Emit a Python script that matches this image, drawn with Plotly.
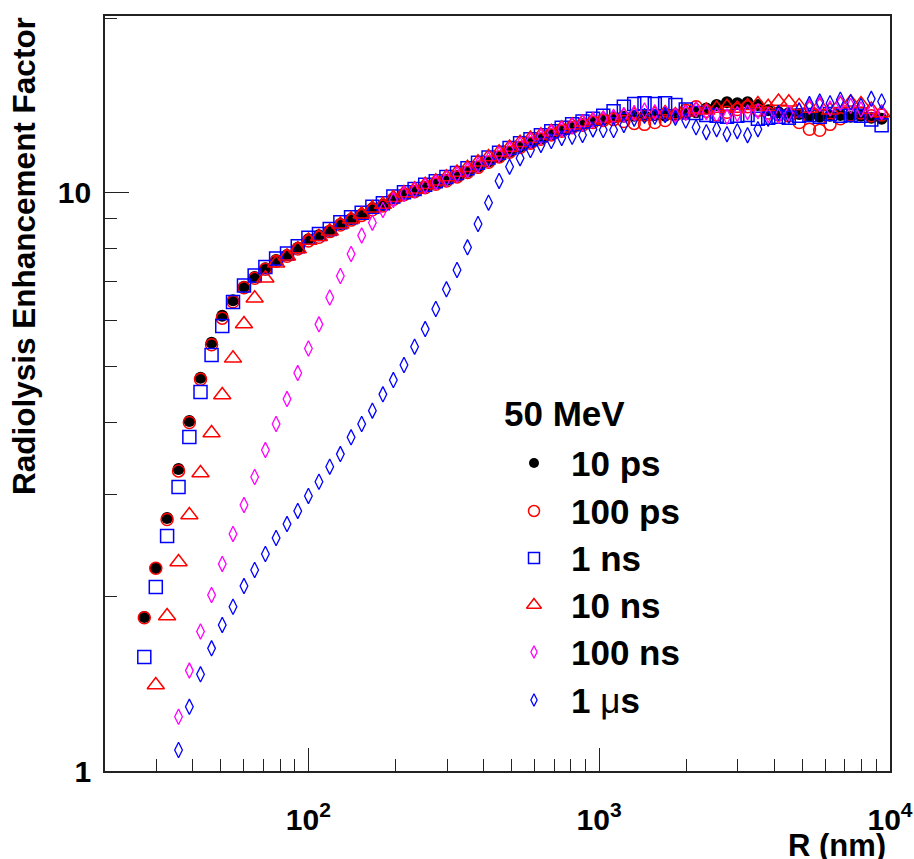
import plotly.graph_objects as go

# Radius R (nm) sample positions (log bins)
R = [27.3, 29.9, 32.7, 35.8, 39.0, 42.6, 46.5, 50.6, 55.1, 60.1,
     65.4, 71.2, 77.5, 84.5, 92.0, 100.1, 108.8, 118.5, 128.9, 140.3,
     152.6, 166.1, 180.5, 196.1, 213.3, 232.0, 252.3, 274.4, 298.5, 324.6,
     352.7, 383.3, 416.6, 452.9, 492.0, 534.8, 580.5, 630.6, 684.6, 743.5,
     807.5, 876.8, 952.2, 1033, 1121, 1216, 1320, 1432, 1554, 1686,
     1829, 1985, 2154, 2336, 2535, 2751, 2985, 3238, 3514, 3813,
     4137, 4489, 4870, 5284, 5733, 6221, 6750, 7325, 7947, 8624, 9357]

ref_10ps = [1.845, 2.243, 2.736, 3.325, 4.024, 4.780, 5.495, 6.117, 6.505, 6.866,
            7.137, 7.388, 7.636, 7.789, 8.019, 8.291, 8.430, 8.581, 8.813, 8.989,
            9.159, 9.381, 9.505, 9.761, 9.93, 10.05, 10.21, 10.35, 10.50, 10.67,
            10.85, 11.08, 11.30, 11.52, 11.75, 11.98, 12.18, 12.38, 12.58, 12.78,
            12.95, 13.10, 13.25, 13.35, 13.45, 13.50, 13.55, 13.55, 13.60, 13.55,
            13.60, 13.65, 13.75, 13.95, 14.15, 14.30, 14.25, 14.30, 14.15, 13.85,
            13.75, 13.70, 13.65, 13.55, 13.50, 13.55, 13.60, 13.50, 13.55, 13.45, 13.40]

ref_100ps = [1.84, 2.24, 2.72, 3.30, 4.00, 4.75, 5.45, 6.06, 6.47, 6.84,
             7.10, 7.36, 7.60, 7.75, 7.98, 8.24, 8.36, 8.55, 8.78, 8.95,
             9.12, 9.33, 9.47, 9.72, 9.90, 10.02, 10.18, 10.32, 10.46, 10.63,
             10.82, 11.04, 11.27, 11.50, 11.72, 11.95, 12.15, 12.35, 12.56, 12.75,
             12.92, 13.05, 13.20, 13.30, 13.35, 13.25, 13.15, 13.10, 13.20, 13.30,
             13.60, 13.85, 14.05, 13.80, 13.60, 13.75, 13.90, 14.05, 13.85, 13.70,
             13.60, 13.55, 13.20, 12.85, 12.80, 13.10, 13.40, 13.60, 13.70, 13.55, 13.60]

ref_1ns = [1.574, 2.079, 2.547, 3.095, 3.777, 4.516, 5.233, 5.873, 6.461, 6.90,
           7.18, 7.43, 7.68, 7.84, 8.07, 8.34, 8.47, 8.64, 8.87, 9.05,
           9.22, 9.44, 9.57, 9.83, 10.00, 10.13, 10.30, 10.45, 10.62, 10.80,
           11.00, 11.25, 11.48, 11.70, 11.92, 12.15, 12.35, 12.55, 12.75, 12.92,
           13.10, 13.25, 13.40, 13.55, 13.80, 14.05, 14.20, 14.25, 14.20, 14.25,
           14.15, 13.90, 13.70, 13.60, 13.55, 13.50, 13.55, 13.60, 13.40, 13.45,
           13.50, 13.45, 13.55, 13.60, 13.50, 13.65, 13.55, 13.60, 13.55, 13.35, 13.05]

ref_10ns = [None, 1.408, 1.853, 2.296, 2.769, 3.272, 3.837, 4.462, 5.164, 5.920,
            6.557, 7.100, 7.539, 7.75, 7.98, 8.25, 8.38, 8.56, 8.80, 8.98,
            9.16, 9.38, 9.52, 9.78, 9.97, 10.12, 10.30, 10.45, 10.62, 10.82,
            11.02, 11.27, 11.50, 11.72, 11.95, 12.18, 12.38, 12.55, 12.72, 12.90,
            13.05, 13.20, 13.32, 13.40, 13.45, 13.55, 13.60, 13.50, 13.65, 13.70,
            13.60, 13.75, 13.90, 13.85, 13.95, 14.05, 13.95, 14.10, 14.20, 14.05,
            14.35, 14.30, 14.10, 13.95, 14.10, 13.85, 14.20, 14.30, 14.20, 13.90, 13.70]

ref_100ns = [None, None, None, 1.241, 1.491, 1.742, 2.014, 2.279, 2.568, 2.881,
             3.221, 3.585, 3.977, 4.392, 4.870, 5.370, 5.912, 6.578, 7.165, 7.821,
             8.418, 8.859, 9.318, 9.694, 9.93, 10.08, 10.25, 10.40, 10.55, 10.72,
             10.92, 11.15, 11.38, 11.62, 11.85, 12.08, 12.28, 12.48, 12.68, 12.86,
             13.02, 13.18, 13.32, 13.40, 13.50, 13.60, 13.70, 13.85, 13.75, 13.65,
             13.55, 13.70, 13.90, 13.75, 13.60, 13.50, 13.65, 13.75, 13.80, 13.60,
             13.55, 13.70, 13.85, 14.05, 14.20, 13.95, 14.25, 14.10, 13.90, 13.85, 13.75]

ref_1us = [None, None, None, 1.087, 1.291, 1.469, 1.629, 1.788, 1.922, 2.087,
           2.225, 2.371, 2.527, 2.671, 2.814, 2.987, 3.161, 3.356, 3.528, 3.772,
           3.977, 4.194, 4.475, 4.737, 5.029, 5.409, 5.802, 6.284, 6.796, 7.338,
           8.032, 8.813, 9.592, 10.46, 11.07, 11.45, 11.83, 12.07, 12.26, 12.41,
           12.47, 12.56, 12.84, 12.81, 12.81, 13.07, 13.40, 13.55, 13.50, 13.60,
           13.45, 13.30, 12.95, 12.70, 12.85, 12.60, 12.75, 12.55, 12.85, 13.40,
           13.70, 13.55, 13.85, 14.20, 14.35, 14.25, 14.45, 14.30, 14.10, 14.50, 14.35]

legend_header = "50 MeV"
series_names = ["10 ps", "100 ps", "1 ns", "10 ns", "100 ns",
                "1 <span style='font-weight:normal'>μ</span>s"]
series_values = [ref_10ps, ref_100ps, ref_1ns, ref_10ns, ref_100ns, ref_1us]
series_colors = ["#000000", "#ff0000", "#0000ff", "#ff0000", "#ff00ff", "#0000ff"]
series_symbols = ["circle", "circle-open", "square-open", "triangle-up-open",
                  "diamond-tall-open", "diamond-tall-open"]
series_sizes = [12, 12, 13, 15, 11, 11]
legend_sizes = [10, 11, 11, 13, 9, 9]
series_lw = [0, 1.5, 1.5, 1.5, 1.3, 1.3]

x_major = [100, 1000, 10000]
x_major_text = ["10<sup>2</sup>", "10<sup>3</sup>", "10<sup>4</sup>"]
x_minor = [20, 30, 40, 50, 60, 70, 80, 90, 200, 300, 400, 500, 600, 700, 800, 900,
           2000, 3000, 4000, 5000, 6000, 7000, 8000, 9000]
y_major = [1, 10]
y_major_text = ["1", "10"]
y_minor = [2, 3, 4, 5, 6, 7, 8, 9, 20]

FONT = "Liberation Sans, Arial, Helvetica, sans-serif"

# plot frame in pixels (layout only)
L, T, W, H = 105, 16, 785, 755
def px_x(p):
    return (p - L) / W
def px_y(p):
    return (T + H - p) / H

# legend layout (pixels)
LEG_MARK_X, LEG_TEXT_X, LEG_HEAD_X, LEG_HEAD_Y = 534, 569, 502, 413
LEG_ROWS = [463, 511, 558, 605, 652, 700]

fig = go.Figure()
for name, vals, col, sym, sz, lw in zip(series_names, series_values, series_colors,
                                        series_symbols, series_sizes, series_lw):
    fig.add_trace(go.Scatter(
        x=R, y=vals, mode="markers", name=name, showlegend=False,
        marker=dict(symbol=sym, size=sz, color=col,
                    line=dict(color=col, width=lw)),
        cliponaxis=True,
    ))

# legend symbols on an overlay axis spanning [0,1]
annotations = []
for i, (name, col, sym, sz, lw) in enumerate(zip(series_names, series_colors,
                                                 series_symbols, legend_sizes, series_lw)):
    fig.add_trace(go.Scatter(
        x=[px_x(LEG_MARK_X)], y=[px_y(LEG_ROWS[i])], xaxis="x2", yaxis="y2",
        mode="markers", showlegend=False, hoverinfo="skip",
        marker=dict(symbol=sym, size=sz, color=col, line=dict(color=col, width=lw)),
        cliponaxis=False,
    ))
    annotations.append(dict(
        text=name, xref="paper", yref="paper", x=px_x(LEG_TEXT_X), y=px_y(LEG_ROWS[i]),
        xanchor="left", yanchor="middle", showarrow=False,
        font=dict(family=FONT, size=35, weight="bold", color="black")))

annotations += [
    dict(text=legend_header, xref="paper", yref="paper",
         x=px_x(LEG_HEAD_X), y=px_y(LEG_HEAD_Y), xanchor="left", yanchor="middle",
         showarrow=False, font=dict(family=FONT, size=35, weight="bold", color="black")),
    dict(text="Radiolysis Enhancement Factor", textangle=-90,
         xref="paper", yref="paper", x=px_x(24), y=px_y(15),
         xanchor="center", yanchor="top", showarrow=False,
         font=dict(family=FONT, size=31.5, weight="bold", color="black")),
    dict(text="R (nm)", xref="paper", yref="paper",
         x=px_x(888), y=px_y(845), xanchor="right", yanchor="middle",
         showarrow=False,
         font=dict(family=FONT, size=31, weight="bold", color="black")),
]

fig.update_layout(
    width=914, height=859,
    margin=dict(l=L, r=914 - L - W, t=T, b=859 - T - H, autoexpand=False),
    paper_bgcolor="white", plot_bgcolor="white",
    font=dict(family=FONT, color="black"),
    showlegend=False,
    xaxis=dict(
        type="log", range=[1.30103, 4], automargin=False,
        showgrid=False, zeroline=False,
        showline=True, linecolor="#222222", linewidth=1.6, mirror=True,
        ticks="inside", ticklen=23, tickwidth=1.3, tickcolor="#222222",
        tickmode="array", tickvals=x_major, ticktext=x_major_text,
        tickfont=dict(family=FONT, size=30, weight="bold"),
        ticklabelstandoff=21,
        minor=dict(tickmode="array", tickvals=x_minor, ticks="inside",
                   ticklen=12, tickwidth=1.3, tickcolor="#222222", showgrid=False),
    ),
    yaxis=dict(
        type="log", range=[0, 1.3045], automargin=False,
        showgrid=False, zeroline=False,
        showline=True, linecolor="#222222", linewidth=1.6, mirror=True,
        ticks="inside", ticklen=24, tickwidth=1.3, tickcolor="#222222",
        tickmode="array", tickvals=y_major, ticktext=y_major_text,
        tickfont=dict(family=FONT, size=30, weight="bold"),
        ticklabelstandoff=6,
        minor=dict(tickmode="array", tickvals=y_minor, ticks="inside",
                   ticklen=12, tickwidth=1.3, tickcolor="#222222", showgrid=False),
    ),
    xaxis2=dict(overlaying="x", range=[0, 1], visible=False, fixedrange=True),
    yaxis2=dict(overlaying="y", range=[0, 1], visible=False, fixedrange=True),
    annotations=annotations,
)

fig.write_html("out.html")
